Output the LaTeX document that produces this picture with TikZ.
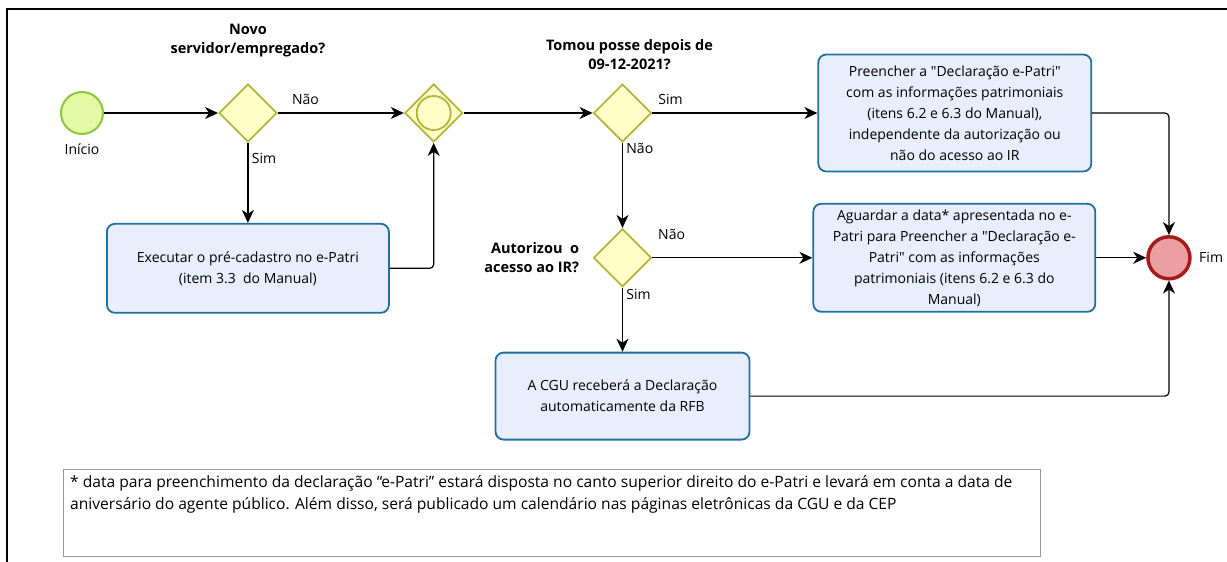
\documentclass[tikz,border=0pt]{standalone}
\usepackage{fontspec}
\setmainfont{Open Sans}[Ligatures=TeXOff]
\usepackage{tikz}
\usetikzlibrary{shapes.geometric,arrows.meta}
\usetikzlibrary{positioning}
\definecolor{startfill}{HTML}{E4F8A6}
\definecolor{startline}{HTML}{8CC83C}
\definecolor{gwfill}{HTML}{FFFFC8}
\definecolor{gwline}{HTML}{B4B43C}
\definecolor{taskfill}{HTML}{E8EEFC}
\definecolor{taskline}{HTML}{1F6F9F}
\definecolor{endfill}{HTML}{EAA0A3}
\definecolor{endline}{HTML}{A51C1C}
\tikzset{auto,>={Stealth[length=13pt,width=12pt,inset=4pt]}, minimum size=0pt, node distance=1cm, font=\fontsize{14}{21}\selectfont}
\tikzstyle{startevent} = [draw=startline, fill=startfill, circle, line width=2pt, minimum size=42pt, inner sep=0pt]
\tikzstyle{endevent} = [draw=endline, fill=endfill, circle, line width=3.5pt, minimum size=42pt, inner sep=0pt]
\tikzstyle{gateway} = [draw=gwline, fill=gwfill, diamond, line width=1.8pt, minimum width=58pt, minimum height=58pt, inner sep=0pt]
\tikzstyle{task} = [draw=taskline, fill=taskfill, rectangle, rounded corners=8pt, line width=1.8pt, text centered, align=center]
\tikzstyle{question} = [font=\fontsize{14.5}{19}\selectfont\bfseries, align=center]
\tikzstyle{flow} = [->, line width=1.2pt, rounded corners=4pt]

\begin{document}
\begin{tikzpicture}[x=1pt, y=-1pt]
    \useasboundingbox (0,0) rectangle (1227,562);
    \draw [line width=2.5pt] (7,562) -- (7,9) -- (1227,9);

    \node [startevent] (start) at (82,113) {};
    \node [below=5pt of start] (start_lbl) {Início};
    \node [gateway, right=114pt of start] (gw_new) {};
    \node [question, above=23pt of gw_new] (q_new) {Novo\\servidor/empregado?};
    \node [task, below=80pt of gw_new, minimum width=282pt, minimum height=89pt] (pre) {Executar o pré-cadastro no e-Patri\\(item 3.3 \ do Manual)};
    \node [gateway, right=126pt of gw_new] (merge) {};
    \node [draw=gwline, circle, line width=1.8pt, minimum size=34pt, inner sep=0pt] (merge_in) at (merge) {};
    \node [gateway, right=129pt of merge] (gw_posse) {};
    \node [question, above=10pt of gw_posse, xshift=7pt] (q_posse) {Tomou posse depois de\\09-12-2021?};
    \node [task, right=165pt of gw_posse, minimum width=273pt, minimum height=117pt] (fill_now) {Preencher a "Declaração e-Patri"\\com as informações patrimoniais\\(itens 6.2 e 6.3 do Manual),\\independente da autorização ou\\não do acesso ao IR};
    \node [gateway, below=85pt of gw_posse] (gw_ir) {};
    \node [question, left=10pt of gw_ir, align=right] (q_ir) {Autorizou \ o\\acesso ao IR?};
    \node [task, right=160pt of gw_ir, minimum width=282pt, minimum height=108pt] (wait) {Aguardar a data* apresentada no e-\\Patri para Preencher a "Declaração e-\\Patri" com as informações\\patrimoniais (itens 6.2 e 6.3 do\\Manual)};
    \node [task, below=64pt of gw_ir, minimum width=254pt, minimum height=87pt] (cgu) {A CGU receberá a Declaração\\automaticamente da RFB};
    \node [endevent, right=50pt of wait] (fim) {};
    \node [right=4pt of fim] (fim_lbl) {Fim};

    \node [draw=black!40, line width=1pt, minimum width=977pt, minimum height=87pt, anchor=north west] (note) at (63,469) {};
    \node [anchor=north west, align=left, inner sep=0pt, font=\fontsize{15.6}{22}\selectfont] (note_txt) at ([shift={(7pt,-6pt)}]note.north west) {* data para preenchimento da declaração “e-Patri” estará disposta no canto superior direito do e-Patri e levará em conta a data de\\aniversário do agente público. Além disso, será publicado um calendário nas páginas eletrônicas da CGU e da CEP};

    \draw [flow] (start) -- (gw_new);
    \draw [flow] (gw_new) -- node [pos=0.22, yshift=4pt] {Não} (merge);
    \draw [flow] (gw_new) -- node [pos=0.2] {Sim} (pre);
    \draw [flow] (pre) -| (merge);
    \draw [flow] (merge) -- (gw_posse);
    \draw [flow] (gw_posse) -- node [pos=0.11, yshift=4pt] {Sim} (fill_now);
    \draw [flow] (gw_posse) -- node [pos=0.07] {Não} (gw_ir);
    \draw [flow] (gw_ir) -- node [pos=0.12, yshift=14pt] {Não} (wait);
    \draw [flow] (gw_ir) -- node [pos=0.1] {Sim} (cgu);
    \draw [flow] (fill_now) -| (fim);
    \draw [flow] (wait) -- (fim);
    \draw [flow] (cgu) -| (fim);
\end{tikzpicture}
\end{document}
